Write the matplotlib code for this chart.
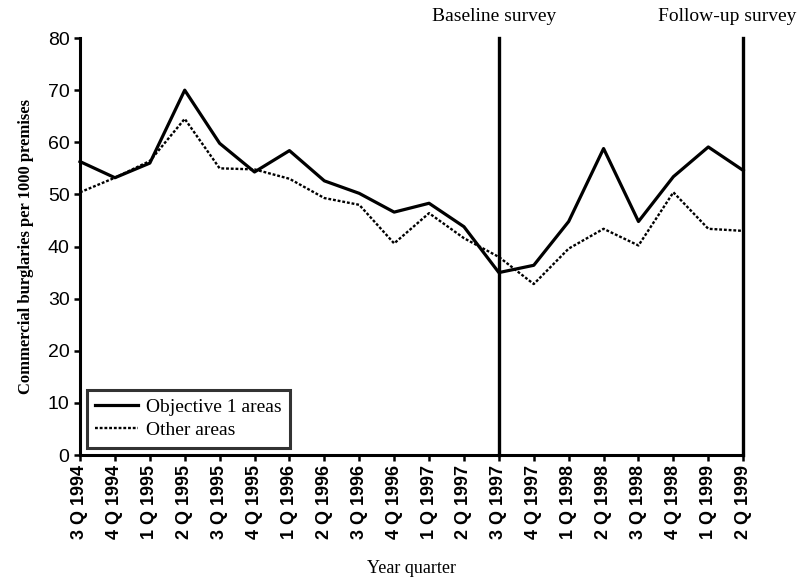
import matplotlib
matplotlib.use("Agg")
import matplotlib.pyplot as plt

# quarters from 3Q 1994 to 2Q 1999
quarters = ["3 Q 1994", "4 Q 1994", "1 Q 1995", "2 Q 1995", "3 Q 1995",
            "4 Q 1995", "1 Q 1996", "2 Q 1996", "3 Q 1996", "4 Q 1996",
            "1 Q 1997", "2 Q 1997", "3 Q 1997", "4 Q 1997", "1 Q 1998",
            "2 Q 1998", "3 Q 1998", "4 Q 1998", "1 Q 1999", "2 Q 1999"]

objective1 = [56.3, 53.2, 56.0, 70.0, 59.8, 54.3, 58.4, 52.6, 50.2, 46.6,
              48.3, 43.8, 35.0, 36.4, 44.8, 58.8, 44.8, 53.4, 59.1, 54.6]
other = [50.4, 53.2, 56.4, 64.5, 55.0, 54.8, 53.0, 49.3, 48.0, 40.6,
         46.4, 41.6, 38.0, 32.8, 39.6, 43.4, 40.2, 50.4, 43.4, 43.0]

survey_idx = [12, 19]
survey_names = ["Baseline survey", "Follow-up survey"]

serif = "Liberation Serif"
sans = "Liberation Sans"

fig = plt.figure(figsize=(8, 5.77), dpi=100)
ax = fig.add_axes([0.1, 0.2114, 0.829, 0.7227])

x = list(range(len(quarters)))
ax.plot(x, objective1, color="black", linewidth=2.3, label="Objective 1 areas",
        clip_on=False)
ax.plot(x, other, color="black", linewidth=1.7, linestyle=(0, (1.2, 0.8)),
        label="Other areas", clip_on=False)

# survey markers, labels nudged left like in the original
shifts = [-3.5, -11.5]
for i, name, dx in zip(survey_idx, survey_names, shifts):
    ax.plot([i, i], [0, 80], color="black", linewidth=2.4, clip_on=False)
    ax.annotate(name, xy=(i, 82.5), xytext=(dx, 0), textcoords="offset points",
                ha="center", va="bottom", fontsize=14, family=serif,
                annotation_clip=False)

ax.set_xlim(0, 19)
ax.set_ylim(0, 80)
ax.set_xticks(x)
ax.set_xticklabels(quarters, rotation=90, family=sans, fontweight="bold",
                   fontsize=13)
ax.set_yticks(range(0, 81, 10))
ax.set_yticklabels([str(v) for v in range(0, 81, 10)], family=sans, fontsize=14)

for side in ["top", "right"]:
    ax.spines[side].set_visible(False)
for side in ["left", "bottom"]:
    ax.spines[side].set_linewidth(2.2)
ax.tick_params(axis="both", direction="out", length=4, width=1.8, color="black")
ax.tick_params(axis="x", pad=3)

ax.set_xlabel("Year quarter", family=serif, fontsize=13, labelpad=15)
ax.set_ylabel("Commercial burglaries per 1000 premises", family=serif,
              fontweight="bold", fontsize=12, labelpad=10)

leg = ax.legend(loc="lower left", bbox_to_anchor=(0.004, 0.008),
                prop={"family": serif, "size": 14}, frameon=True,
                fancybox=False, handlelength=2.2, borderpad=0.45,
                labelspacing=0.28, handletextpad=0.4, borderaxespad=0.2)
leg.get_frame().set_edgecolor("black")
leg.get_frame().set_linewidth(2.2)

fig.savefig("out.png", dpi=100)
